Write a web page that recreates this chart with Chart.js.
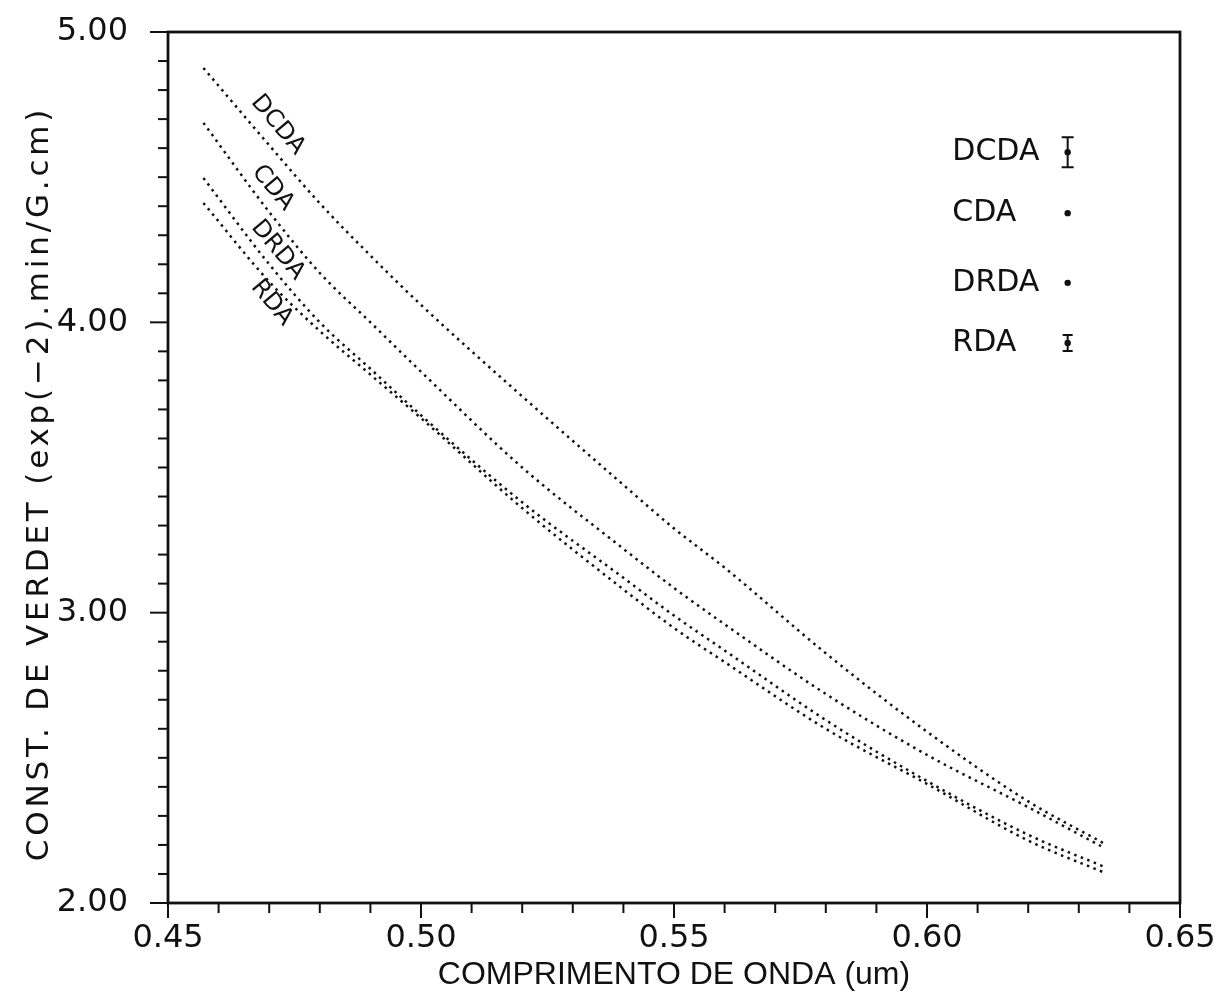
<!DOCTYPE html>
<html>
<head>
<title>Constante de Verdet</title>
<script src="https://cdn.jsdelivr.net/npm/chart.js"></script>
<style>
body { margin: 0; background: #fff; }
.chart-container { position: relative; width: 1220px; height: 1000px; }
</style>
</head>
<body>
<div class="chart-container">
<canvas id="verdetChart"></canvas>
</div>
<script>
// comprimento de onda (um)
const lambda = [0.457, 0.47, 0.48, 0.49, 0.50, 0.52, 0.54, 0.55, 0.56, 0.58, 0.60, 0.62, 0.635];
const dcda = [4.876, 4.61, 4.41, 4.23, 4.06, 3.745, 3.44, 3.29, 3.155, 2.86, 2.59, 2.35, 2.205];
const cda  = [4.687, 4.38, 4.17, 4.00, 3.83, 3.50, 3.22, 3.085, 2.96, 2.72, 2.51, 2.33, 2.19];
const drda = [4.497, 4.20, 4.00, 3.84, 3.68, 3.38, 3.12, 2.99, 2.87, 2.63, 2.42, 2.235, 2.125];
const rda  = [4.411, 4.14, 3.97, 3.82, 3.67, 3.36, 3.08, 2.947, 2.83, 2.60, 2.41, 2.215, 2.105];
const seriesNames = ['DCDA', 'CDA', 'DRDA', 'RDA'];
// rotulos sobre as curvas (posicao em unidades dos eixos)
const curveLabelX = [0.4717, 0.4707, 0.4717, 0.4705];
const curveLabelY = [4.680, 4.463, 4.249, 4.067];
const legendMarks = ['bar', 'dot', 'dot', 'smallbar'];
const yTitle = 'CONST. DE VERDET (exp(−2).min/G.cm)';

const tickFont = { family: 'DejaVu Sans', size: 32 };
const ink = '#111';

function pts(ys) {
  return lambda.map((x, i) => ({ x: x, y: ys[i] }));
}

function dotted(label, ys) {
  return {
    label: label,
    data: pts(ys),
    borderColor: ink,
    borderWidth: 2.5,
    borderDash: [2.5, 4.5],
    pointRadius: 0,
    fill: false,
    cubicInterpolationMode: 'monotone'
  };
}

// moldura + marcas de escala
const frame = {
  id: 'frame',
  afterDraw(chart) {
    const { ctx, chartArea: a, scales } = chart;
    ctx.save();
    ctx.strokeStyle = ink;
    ctx.lineWidth = 2.8;
    ctx.strokeRect(a.left, a.top, a.right - a.left, a.bottom - a.top);
    ctx.lineWidth = 2;
    scales.x.ticks.forEach(t => {
      const px = scales.x.getPixelForValue(t.value);
      const major = Math.round(t.value * 100) % 5 === 0;
      ctx.beginPath();
      ctx.moveTo(px, a.bottom);
      ctx.lineTo(px, a.bottom + (major ? 15 : 10));
      ctx.stroke();
    });
    scales.y.ticks.forEach(t => {
      const py = scales.y.getPixelForValue(t.value);
      const major = Math.abs(t.value - Math.round(t.value)) < 1e-6;
      ctx.beginPath();
      ctx.moveTo(a.left, py);
      ctx.lineTo(a.left - (major ? 18 : 10), py);
      ctx.stroke();
    });
    // titulo do eixo y, com espacamento largo como no original
    ctx.save();
    ctx.fillStyle = ink;
    ctx.font = '31px "DejaVu Sans"';
    ctx.letterSpacing = '3.8px';
    ctx.textAlign = 'center';
    ctx.textBaseline = 'middle';
    ctx.translate(40, (a.top + a.bottom) / 2 + 16);
    ctx.rotate(-Math.PI / 2);
    ctx.fillText(yTitle, 0, 0);
    ctx.restore();
    ctx.restore();
  }
};

// nomes das curvas, inclinados
const curveLabels = {
  id: 'curveLabels',
  afterDatasetsDraw(chart) {
    const { ctx, scales } = chart;
    ctx.save();
    ctx.fillStyle = ink;
    ctx.font = '24px "DejaVu Sans"';
    ctx.textAlign = 'center';
    ctx.textBaseline = 'middle';
    seriesNames.forEach((name, i) => {
      ctx.save();
      ctx.translate(scales.x.getPixelForValue(curveLabelX[i]), scales.y.getPixelForValue(curveLabelY[i]));
      ctx.rotate(50 * Math.PI / 180);
      ctx.fillText(name, 0, 0);
      ctx.restore();
    });
    ctx.restore();
  }
};

// legenda dentro do grafico
const boxLegend = {
  id: 'boxLegend',
  afterDraw(chart) {
    const { ctx, chartArea: a } = chart;
    const w = a.right - a.left, h = a.bottom - a.top;
    const tx = a.left + 0.775 * w;
    const mx = a.left + 0.889 * w;
    const rows = [0.138, 0.208, 0.288, 0.357];
    ctx.save();
    ctx.fillStyle = ink;
    ctx.strokeStyle = ink;
    ctx.lineWidth = 2;
    ctx.font = '30px "DejaVu Sans"';
    ctx.textAlign = 'left';
    ctx.textBaseline = 'middle';
    seriesNames.forEach((name, i) => {
      const y = a.top + rows[i] * h;
      ctx.fillText(name, tx, y);
      const kind = legendMarks[i];
      if (kind === 'bar' || kind === 'smallbar') {
        const half = kind === 'bar' ? 15 : 8;
        const cap = kind === 'bar' ? 6 : 5;
        ctx.beginPath();
        ctx.moveTo(mx, y - half); ctx.lineTo(mx, y + half);
        ctx.moveTo(mx - cap, y - half); ctx.lineTo(mx + cap, y - half);
        ctx.moveTo(mx - cap, y + half); ctx.lineTo(mx + cap, y + half);
        ctx.stroke();
      }
      ctx.beginPath();
      ctx.arc(mx, y, 3.2, 0, Math.PI * 2);
      ctx.fill();
    });
    ctx.restore();
  }
};

const ctx = document.getElementById('verdetChart').getContext('2d');
const chart = new Chart(ctx, {
  type: 'line',
  data: {
    datasets: [dotted('DCDA', dcda), dotted('CDA', cda), dotted('DRDA', drda), dotted('RDA', rda)]
  },
  options: {
    responsive: true,
    maintainAspectRatio: false,
    animation: false,
    layout: { padding: { top: 32, right: 40, left: 0, bottom: 0 } },
    plugins: {
      legend: { display: false },
      tooltip: { enabled: false }
    },
    scales: {
      x: {
        type: 'linear',
        min: 0.45,
        max: 0.65,
        afterFit(scale) {
          scale.height = 97;
          scale.paddingLeft = 0;
          scale.paddingRight = 0;
        },
        border: { display: false },
        grid: { display: false, drawTicks: false },
        ticks: {
          stepSize: 0.01,
          autoSkip: false,
          maxRotation: 0,
          padding: 16,
          color: ink,
          font: tickFont,
          callback: v => (Math.round(v * 100) % 5 === 0 ? v.toFixed(2) : '')
        },
        title: {
          display: true,
          text: 'COMPRIMENTO DE ONDA (um)',
          color: ink,
          font: { family: 'Liberation Sans', size: 32 },
          padding: { top: 0, bottom: 6 }
        }
      },
      y: {
        type: 'linear',
        min: 2,
        max: 5,
        afterFit(scale) {
          scale.width = 168;
          scale.paddingTop = 0;
          scale.paddingBottom = 0;
        },
        border: { display: false },
        grid: { display: false, drawTicks: false },
        ticks: {
          stepSize: 0.1,
          autoSkip: false,
          padding: 40,
          color: ink,
          font: tickFont,
          callback: v => (Math.abs(v - Math.round(v)) < 1e-6 ? v.toFixed(2) : '')
        },
        title: { display: false }
      }
    }
  },
  plugins: [frame, curveLabels, boxLegend]
});
</script>
</body>
</html>
